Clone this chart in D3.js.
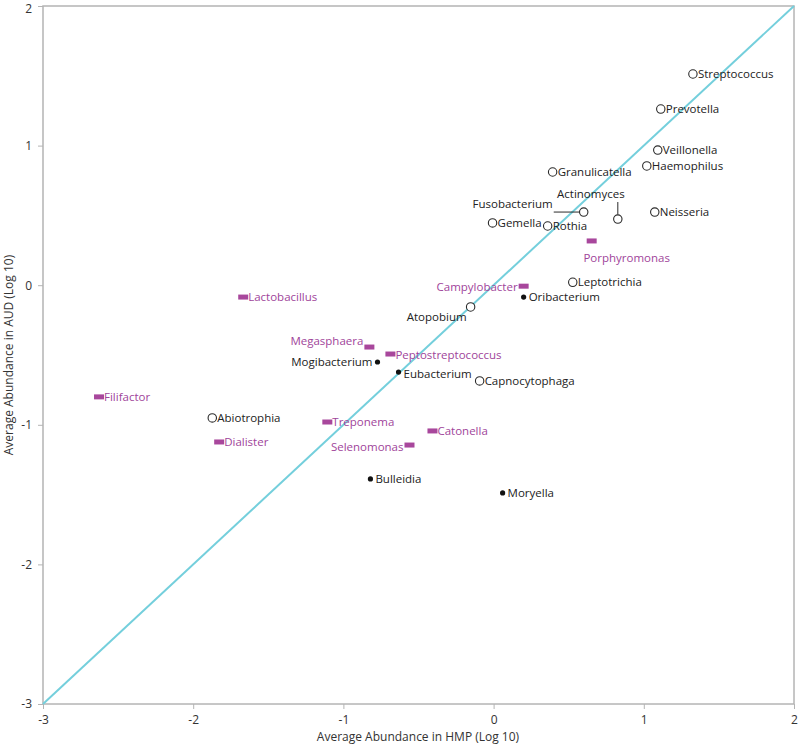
<!DOCTYPE html>
<html><head><meta charset="utf-8">
<script src="https://cdn.jsdelivr.net/npm/d3@7"></script>
<style>body{margin:0;background:#fff}text{font-family:"Open Sans",sans-serif}</style>
</head><body><svg id="c" width="800" height="748"></svg>
<script>
// data
const genera = ["Streptococcus","Prevotella","Veillonella","Haemophilus","Neisseria","Granulicatella","Actinomyces","Fusobacterium","Gemella","Rothia","Porphyromonas","Leptotrichia","Campylobacter","Oribacterium","Atopobium","Megasphaera","Peptostreptococcus","Mogibacterium","Eubacterium","Capnocytophaga","Lactobacillus","Filifactor","Abiotrophia","Dialister","Treponema","Selenomonas","Catonella","Bulleidia","Moryella"];
const hmp = [1.327,1.113,1.093,1.02,1.073,0.393,0.827,0.6,-0.007,0.36,0.653,0.527,0.2,0.2,-0.153,-0.827,-0.687,-0.773,-0.633,-0.093,-1.667,-2.627,-1.873,-1.827,-1.107,-0.56,-0.407,-0.82,0.06];
const aud = [1.513,1.262,0.968,0.854,0.524,0.811,0.474,0.524,0.446,0.424,0.317,0.021,-0.007,-0.085,-0.156,-0.443,-0.493,-0.55,-0.622,-0.686,-0.085,-0.80,-0.951,-1.123,-0.98,-1.145,-1.044,-1.388,-1.488];
const group = ["open","open","open","open","open","open","open","open","open","open","bar","open","bar","dot","open","bar","bar","dot","dot","open","bar","bar","open","bar","bar","bar","bar","dot","dot"];
const xTicks = [-3,-2,-1,0,1,2];
const yTicks = [-3,-2,-1,0,1,2];

const svg = d3.select("#c");
const x = d3.scaleLinear().domain([-3,2]).range([43,794]);
const y = d3.scaleLinear().domain([-3,2]).range([704,6]);
const grey = "#b4b4b4", magenta = "#a8479c", magText = "#a0449a", dark = "#2a2a2a";

// frame
svg.append("rect").attr("x",43).attr("y",6).attr("width",751).attr("height",698)
  .attr("fill","none").attr("stroke",grey).attr("stroke-width",1.5);

const xa = svg.append("g").attr("transform","translate(0,704)")
  .call(d3.axisBottom(x).tickValues(xTicks).tickFormat(d3.format("d")).tickSize(5).tickPadding(6));
const ya = svg.append("g").attr("transform","translate(43,0)")
  .call(d3.axisLeft(y).tickValues(yTicks).tickFormat(d3.format("d")).tickSize(5).tickPadding(6));
[xa,ya].forEach(a=>{a.select(".domain").remove();a.selectAll("line").attr("stroke",grey);
  a.selectAll("text").attr("fill","#333").style("font-size","12px").style("font-family","'Open Sans',sans-serif");});
ya.selectAll("text").text(d=>d<0?"-"+Math.abs(d):d);
xa.selectAll("text").text(d=>d<0?"-"+Math.abs(d):d);
ya.selectAll(".tick").filter(d=>d===2).select("text").attr("dy","0.55em");

// identity line
svg.append("line").attr("x1",x(-3)).attr("y1",y(-3)).attr("x2",x(2)).attr("y2",y(2))
  .attr("stroke","#74cfdc").attr("stroke-width",2);

svg.append("text").attr("x",418).attr("y",741).attr("text-anchor","middle")
  .attr("fill","#333").style("font-size","12px").text("Average Abundance in HMP (Log 10)");
svg.append("text").attr("transform","translate(13,355) rotate(-90)").attr("text-anchor","middle")
  .attr("fill","#333").style("font-size","12px").text("Average Abundance in AUD (Log 10)");

// label placement (anchor, dx, dy relative to marker)
const place = {
  "Fusobacterium":["end",-31,-8],"Actinomyces":["middle",-27,-25],"Porphyromonas":["middle",35,17],
  "Campylobacter":["end",-6,1],"Atopobium":["end",-4,10],"Megasphaera":["end",-6,-6],
  "Mogibacterium":["end",-5,0],"Selenomonas":["end",-6,2],"Peptostreptococcus":["start",5,1],
  "Eubacterium":["start",5,2]
};

const data = genera.map((g,i)=>({g,x:hmp[i],y:aud[i],t:group[i]}));
const gm = svg.append("g");
data.forEach(d=>{
  const cx=x(d.x), cy=y(d.y);
  if(d.t==="open") gm.append("circle").attr("cx",cx).attr("cy",cy).attr("r",4.2).attr("fill","#fff").attr("stroke",dark).attr("stroke-width",1.1);
  else if(d.t==="dot") gm.append("circle").attr("cx",cx).attr("cy",cy).attr("r",2.6).attr("fill","#111");
  else gm.append("rect").attr("x",cx-5).attr("y",cy-2.5).attr("width",10).attr("height",5).attr("fill",magenta);
  const p = place[d.g] || ["start",5,0];
  gm.append("text").attr("x",cx+p[1]).attr("y",cy+p[2]).attr("dy","0.35em").attr("text-anchor",p[0])
    .attr("fill",d.t==="bar"?magText:"#222").style("font-size","11.5px").text(d.g);
});
// leader lines
const fi = genera.indexOf("Fusobacterium"), ai = genera.indexOf("Actinomyces");
gm.append("line").attr("x1",x(hmp[fi])-30).attr("x2",x(hmp[fi])-4.5).attr("y1",y(aud[fi])).attr("y2",y(aud[fi])).attr("stroke",dark);
gm.append("line").attr("x1",x(hmp[ai])).attr("x2",x(hmp[ai])).attr("y1",y(aud[ai])-17).attr("y2",y(aud[ai])-4.5).attr("stroke",dark);
</script></body></html>
